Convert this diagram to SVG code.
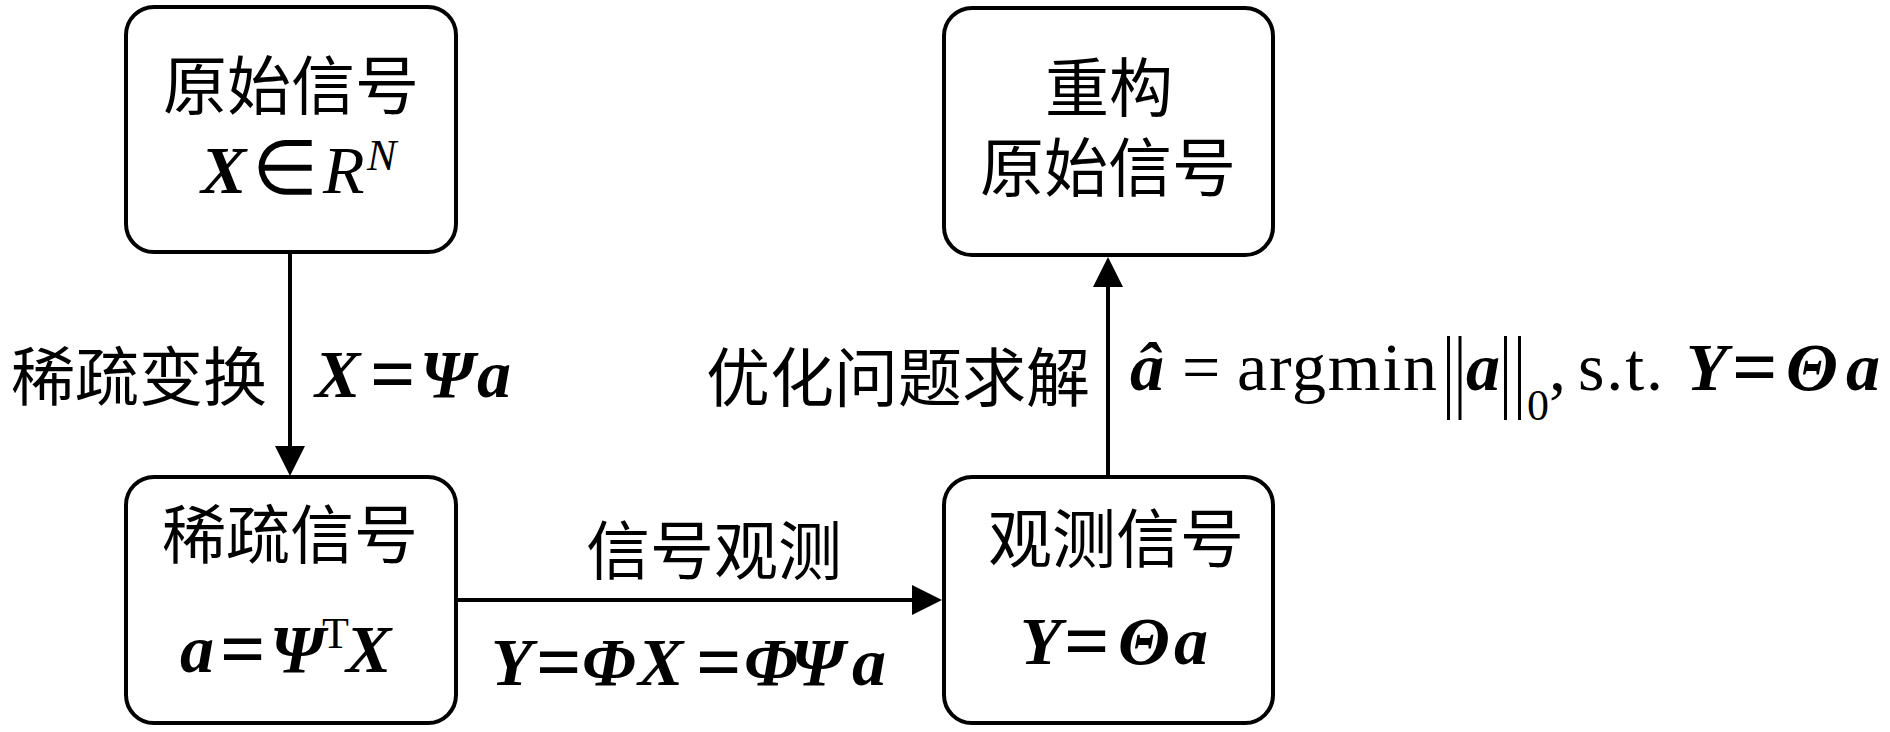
<svg xmlns="http://www.w3.org/2000/svg" width="1890" height="732" viewBox="0 0 1890 732">
<defs>
<style>
.box { fill: #fff; stroke: #000; stroke-width: 4; }
.conn { stroke: #000; stroke-width: 4; fill: none; }
.cjk { font-family: "Liberation Serif", "Noto Sans CJK SC", serif; font-size: 64px; fill: #000; text-anchor: middle; }
.m { font-family: "Liberation Serif", serif; font-size: 68px; fill: #000; }
.b { font-weight: bold; font-style: italic; }
.i { font-style: italic; }
.s { font-size: 44px; }
.eq { font-size: 80px; font-weight: bold; }
.bar { stroke: #000; stroke-width: 3; }
</style>
<marker id="ah" viewBox="0 0 30 30" markerWidth="30" markerHeight="30" refX="20" refY="15" orient="auto" markerUnits="userSpaceOnUse">
<path d="M0,0 L30,15 L0,30 Z" fill="#000"/>
</marker>
</defs>
<rect width="1890" height="732" fill="#fff"/>

<g id="connectors">
<line class="conn" x1="290" y1="252" x2="290" y2="466" marker-end="url(#ah)"/>
<line class="conn" x1="1108" y1="477" x2="1108" y2="267" marker-end="url(#ah)"/>
<line class="conn" x1="456" y1="600" x2="932" y2="600" marker-end="url(#ah)"/>
</g>

<g id="node-original">
<rect class="box" x="126" y="7" width="330" height="245" rx="28"/>
<text class="cjk" x="291" y="109">原始信号</text>
<text class="m" y="193"><tspan class="b" x="201">X</tspan><tspan font-size="76" x="252" y="194">∈</tspan><tspan class="i" x="323" y="193">R</tspan><tspan class="i s" x="367" y="170">N</tspan></text>
</g>

<g id="node-sparse">
<rect class="box" x="126" y="477" width="330" height="246" rx="28"/>
<text class="cjk" x="290" y="558">稀疏信号</text>
<text class="m" y="672"><tspan class="b" x="180">a</tspan><tspan class="eq" x="220" y="676">=</tspan><tspan class="b" x="270" y="672">Ψ</tspan><tspan class="s" x="322" y="648">T</tspan><tspan class="b" x="346" y="672">X</tspan></text>
</g>

<g id="node-observed">
<rect class="box" x="944" y="477" width="329" height="246" rx="28"/>
<text class="cjk" x="1116" y="562">观测信号</text>
<text class="m" y="664"><tspan class="b" x="1020">Y</tspan><tspan class="eq" x="1064" y="668">=</tspan><tspan class="b" x="1118" y="664">Θ</tspan><tspan class="b" x="1174">a</tspan></text>
</g>

<g id="node-reconstruct">
<rect class="box" x="944" y="8" width="329" height="247" rx="28"/>
<text class="cjk" x="1109" y="111">重构</text>
<text class="cjk" x="1108" y="191">原始信号</text>
</g>

<g id="labels">
<text class="cjk" x="139" y="400">稀疏变换</text>
<text class="m" y="397"><tspan class="b" x="315">X</tspan><tspan class="eq" x="370" y="401">=</tspan><tspan class="b" x="420" y="397">Ψ</tspan><tspan class="b" x="477">a</tspan></text>

<text class="cjk" x="714" y="574">信号观测</text>
<text class="m" y="685"><tspan class="b" x="491">Y</tspan><tspan class="eq" x="536" y="689">=</tspan><tspan class="b" x="582" y="685">Φ</tspan><tspan class="b" x="638">X</tspan><tspan class="eq" x="696" y="689">=</tspan><tspan class="b" x="744" y="685">Φ</tspan><tspan class="b" x="790">Ψ</tspan><tspan class="b" x="852">a</tspan></text>

<text class="cjk" x="898" y="401">优化问题求解</text>
<text class="m" y="390"><tspan class="b" x="1130">â</tspan><tspan x="1182">=</tspan><tspan x="1237" textLength="200">argmin</tspan><tspan class="b" x="1466">a</tspan><tspan class="s" x="1527" y="420">0</tspan><tspan x="1549" y="390">,</tspan><tspan x="1578" textLength="85">s.t.</tspan><tspan class="b" x="1686">Y</tspan><tspan class="eq" x="1732" y="394">=</tspan><tspan class="b" x="1786" y="390">Θ</tspan><tspan class="b" x="1846">a</tspan></text>
<line class="bar" x1="1448.5" y1="336" x2="1448.5" y2="420"/>
<line class="bar" x1="1460" y1="336" x2="1460" y2="420"/>
<line class="bar" x1="1505.5" y1="336" x2="1505.5" y2="420"/>
<line class="bar" x1="1519.5" y1="336" x2="1519.5" y2="420"/>
</g>
</svg>
